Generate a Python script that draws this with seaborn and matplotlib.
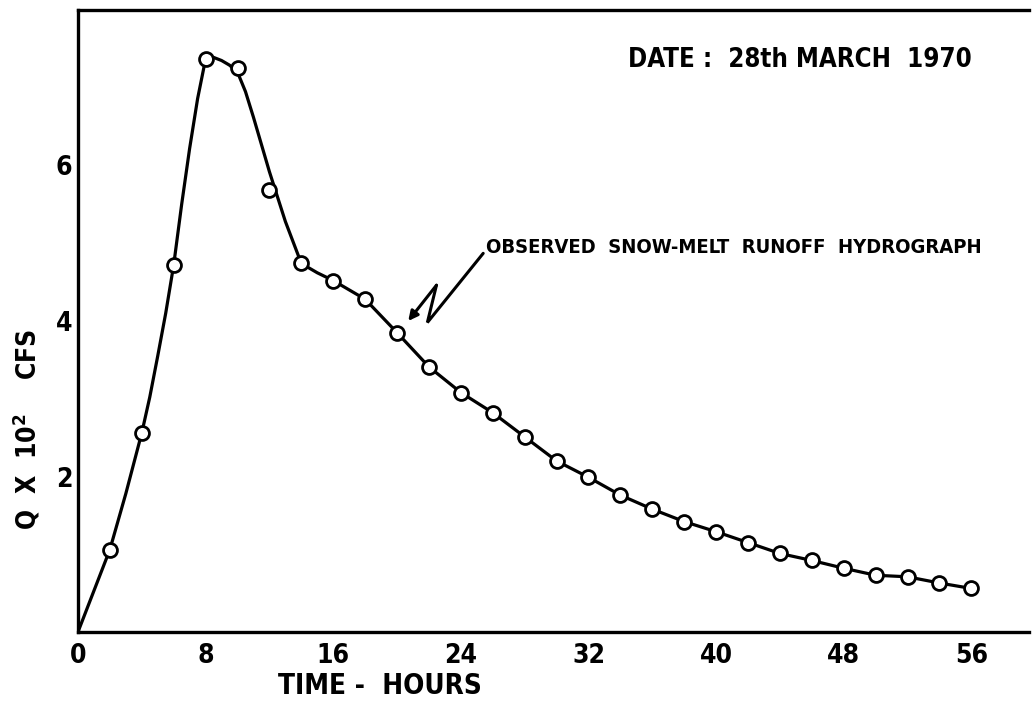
import matplotlib
matplotlib.use("Agg")
import matplotlib.pyplot as plt
import seaborn as sns
import pandas as pd

# Observed discharge (Q x 10^2 cfs) every two hours
hours = [2, 4, 6, 8, 10, 12, 14, 16, 18, 20, 22, 24, 26, 28, 30, 32, 34,
         36, 38, 40, 42, 44, 46, 48, 50, 52, 54, 56]
discharge = [1.06, 2.56, 4.72, 7.37, 7.26, 5.68, 4.74, 4.52, 4.28, 3.85,
             3.41, 3.08, 2.82, 2.51, 2.20, 1.99, 1.76, 1.58, 1.42, 1.29, 1.15,
             1.01, 0.92, 0.82, 0.73, 0.71, 0.63, 0.56]

# Hand-drawn hydrograph line through the observations
curve_hours = [0, 2, 3, 4, 4.5, 5, 5.5, 6, 6.5, 7, 7.5, 8, 8.5, 9, 9.5, 10,
               10.5, 11, 12, 13, 14, 15, 16, 18, 20, 22, 24, 26, 28, 30, 32,
               34, 36, 38, 40, 42, 44, 46, 48, 50, 52, 54, 56]
curve_q = [0.0, 1.06, 1.78, 2.56, 3.02, 3.55, 4.10, 4.72, 5.50, 6.22, 6.86,
           7.37, 7.39, 7.35, 7.29, 7.20, 6.95, 6.62, 5.92, 5.28, 4.74, 4.62,
           4.52, 4.28, 3.85, 3.41, 3.08, 2.82, 2.51, 2.20, 1.99, 1.76, 1.58,
           1.42, 1.29, 1.15, 1.01, 0.92, 0.82, 0.73, 0.71, 0.63, 0.56]

x_ticks = [0, 8, 16, 24, 32, 40, 48, 56]
y_ticks = [2, 4, 6]

sns.set_style("white")
plt.rcParams["font.family"] = ["DejaVu Sans"]
plt.rcParams["font.stretch"] = "condensed"
plt.rcParams["text.color"] = "black"
plt.rcParams["axes.labelcolor"] = "black"

obs = pd.DataFrame({"hours": hours, "q": discharge})
curve = pd.DataFrame({"hours": curve_hours, "q": curve_q})

fig = plt.figure(figsize=(10.34, 7.02), dpi=100)
ax = fig.add_axes([0.0754, 0.0997, 0.9196, 0.8861])

sns.lineplot(data=curve, x="hours", y="q", ax=ax, color="black",
             linewidth=2.3, sort=False, zorder=2)
sns.scatterplot(data=obs, x="hours", y="q", ax=ax, marker="o", s=100,
                facecolor="white", edgecolor="black", linewidth=2.0, zorder=3)

ax.set_xlim(0, 59.6)
ax.set_ylim(0, 8)
ax.set_xticks(x_ticks)
ax.set_xticklabels([str(t) for t in x_ticks])
ax.set_yticks(y_ticks)
ax.set_yticklabels([str(t) for t in y_ticks])

for side in ("left", "bottom", "top"):
    ax.spines[side].set_linewidth(2.4)
    ax.spines[side].set_color("black")
ax.spines["right"].set_visible(False)

ax.tick_params(axis="both", direction="in", length=6, width=2, colors="black",
               labelsize=19)
ax.tick_params(axis="x", pad=8)
ax.tick_params(axis="y", pad=4)
for lab in ax.get_xticklabels() + ax.get_yticklabels():
    lab.set_fontweight("bold")

ax.set_xlabel("TIME -  HOURS", fontsize=20, fontweight="bold")
ax.xaxis.set_label_coords(0.318, -0.064)
ax.set_ylabel("Q  X  10$^{\\mathbf{2}}$    CFS", fontsize=19, fontweight="bold")
ax.yaxis.set_label_coords(-0.037, 0.325)

ax.text(34.5, 7.36, "DATE :  28th MARCH  1970", fontsize=18.5,
        fontweight="bold", ha="left", va="center")
ax.text(25.55, 4.94, "OBSERVED  SNOW-MELT  RUNOFF  HYDROGRAPH", fontsize=14.5,
        fontweight="bold", ha="left", va="center")

# Zig-zag leader from the label to the curve
ax.plot([25.4, 21.9, 22.47], [4.87, 3.98, 4.46], color="black", linewidth=2.2,
        solid_joinstyle="miter")
ax.annotate("", xy=(20.7, 4.00), xytext=(22.47, 4.46),
            arrowprops=dict(arrowstyle="-|>", color="black", lw=2.2,
                            mutation_scale=14, shrinkA=0, shrinkB=0))

fig.savefig("out.png", dpi=100)
